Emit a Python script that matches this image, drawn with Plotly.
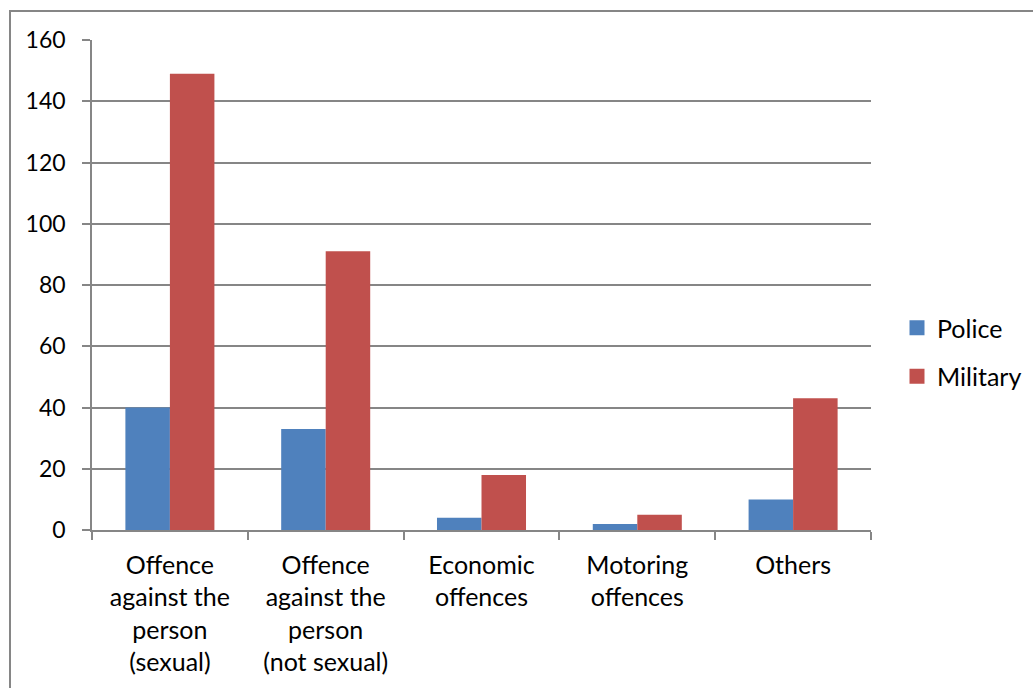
import plotly.graph_objects as go

categories = [
    "Offence<br>against the<br>person<br>(sexual)",
    "Offence<br>against the<br>person<br>(not sexual)",
    "Economic<br>offences",
    "Motoring<br>offences",
    "Others",
]
police = [40, 33, 4, 2, 10]
military = [149, 91, 18, 5, 43]
y_ticks = [0, 20, 40, 60, 80, 100, 120, 140, 160]

W, H = 1033, 688
L, R, T, B = 92, 162, 40, 158
pw, ph = W - L - R, H - T - B

GRID = "#868686"
BLUE, RED = "#4F81BD", "#C0504D"
FAMILY = "Lato, Carlito, sans-serif"
FONT_Y = dict(family=FAMILY, size=23, color="#000000")
FONT_X = dict(family=FAMILY, size=25, color="#000000")

fig = go.Figure()
fig.add_trace(go.Bar(name="Police", x=categories, y=police,
                     marker=dict(color=BLUE, line=dict(width=0)),
                     showlegend=False))
fig.add_trace(go.Bar(name="Military", x=categories, y=military,
                     marker=dict(color=RED, line=dict(width=0)),
                     showlegend=False))

# legend keys drawn as larger squares
for name, color, grp in [("Police", BLUE, "a"), ("Military", RED, "b")]:
    fig.add_trace(go.Scatter(
        name=name, x=[None], y=[None], mode="markers",
        marker=dict(symbol="square", size=15, color=color),
        legendgroup=grp, showlegend=True,
    ))


def px_x(v):
    return (v - L) / pw


def px_y(v):
    return 1 - (v - T) / ph


fig.update_layout(
    width=W, height=H,
    margin=dict(l=L, r=R, t=T, b=B, autoexpand=False),
    paper_bgcolor="white", plot_bgcolor="white",
    font=FONT_Y,
    barmode="group", bargap=1.5 / 3.5, bargroupgap=0,
    xaxis=dict(
        showline=True, linecolor=GRID, linewidth=1.5,
        ticks="outside", ticklen=8, tickcolor=GRID, tickwidth=1.5,
        tickson="boundaries", showgrid=False,
        tickfont=FONT_X, ticklabelstandoff=12,
    ),
    yaxis=dict(
        range=[0, 160], tickvals=y_ticks,
        showline=True, linecolor=GRID, linewidth=1.5,
        ticks="outside", ticklen=8, tickcolor=GRID, tickwidth=1.5,
        showgrid=True, gridcolor=GRID, gridwidth=1.5,
        zeroline=False, tickfont=FONT_Y, ticklabelstandoff=12,
    ),
    legend=dict(
        x=px_x(897), y=px_y(305), xanchor="left", yanchor="top",
        font=FONT_X, traceorder="grouped", tracegroupgap=13,
        bgcolor="rgba(0,0,0,0)",
    ),
    shapes=[dict(
        type="rect", xref="paper", yref="paper",
        x0=px_x(10), x1=px_x(W + 20), y0=px_y(11), y1=px_y(H + 20),
        line=dict(color=GRID, width=2), fillcolor="rgba(0,0,0,0)",
        layer="below",
    )],
)

fig.write_html("out.html")
